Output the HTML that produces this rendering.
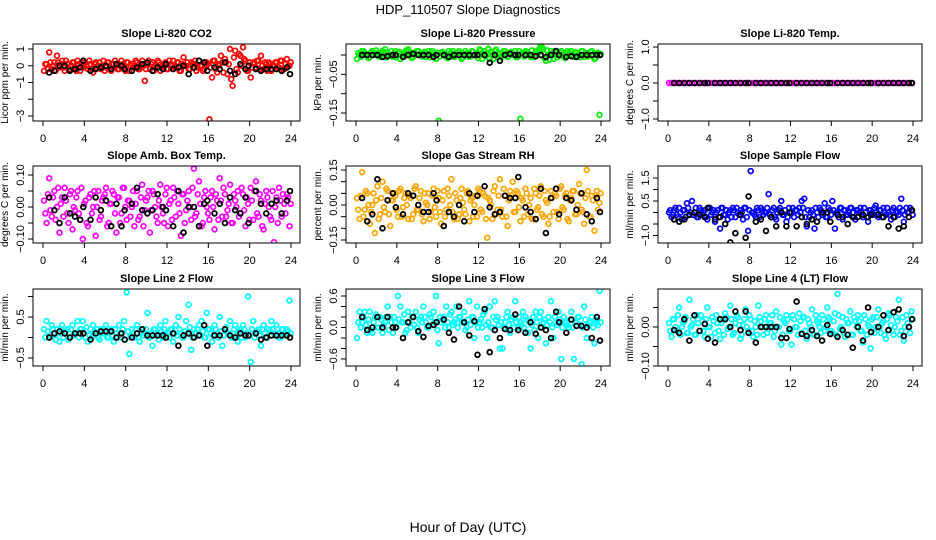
<!DOCTYPE html>
<html><head><meta charset="utf-8"><style>
body{margin:0;background:#fff;}
svg{display:block;font-family:"Liberation Sans",sans-serif;}
</style></head><body>
<svg id="c" width="936" height="540" viewBox="0 0 936 540">
<text x="468" y="14" text-anchor="middle" font-size="13">HDP_110507  Slope Diagnostics</text>
<text x="468" y="532" text-anchor="middle" font-size="14">Hour of Day (UTC)</text>
</svg>
<script>
const hoursA=[0.1,0.35,0.6,0.85,1.1,1.35,1.6,1.85,2.1,2.35,2.6,2.85,3.1,3.35,3.6,3.85,4.1,4.35,4.6,4.85,5.1,5.35,5.6,5.85,6.1,6.35,6.6,6.85,7.1,7.35,7.6,7.85,8.1,8.35,8.6,8.85,9.1,9.35,9.6,9.85,10.1,10.35,10.6,10.85,11.1,11.35,11.6,11.85,12.1,12.35,12.6,12.85,13.1,13.35,13.6,13.85,14.1,14.35,14.6,14.85,15.1,15.35,15.6,15.85,16.1,16.35,16.6,16.85,17.1,17.35,17.6,17.85,18.1,18.35,18.6,18.85,19.1,19.35,19.6,19.85,20.1,20.35,20.6,20.85,21.1,21.35,21.6,21.85,22.1,22.35,22.6,22.85,23.1,23.35,23.6,23.85];
const hoursC=[0.22,0.47,0.72,0.97,1.22,1.47,1.72,1.97,2.22,2.47,2.72,2.97,3.22,3.47,3.72,3.97,4.22,4.47,4.72,4.97,5.22,5.47,5.72,5.97,6.22,6.47,6.72,6.97,7.22,7.47,7.72,7.97,8.22,8.47,8.72,8.97,9.22,9.47,9.72,9.97,10.22,10.47,10.72,10.97,11.22,11.47,11.72,11.97,12.22,12.47,12.72,12.97,13.22,13.47,13.72,13.97,14.22,14.47,14.72,14.97,15.22,15.47,15.72,15.97,16.22,16.47,16.72,16.97,17.22,17.47,17.72,17.97,18.22,18.47,18.72,18.97,19.22,19.47,19.72,19.97,20.22,20.47,20.72,20.97,21.22,21.47,21.72,21.97,22.22,22.47,22.72,22.97,23.22,23.47,23.72,23.97];
const hoursB=[0.6,1.1,1.6,2.1,2.6,3.1,3.6,3.9,4.6,5.1,5.6,6.1,6.6,7.1,7.6,7.9,8.6,9.1,9.6,10.1,10.6,11.1,11.6,11.9,12.6,13.1,13.6,14.1,14.6,15.1,15.6,15.9,16.6,17.1,17.6,18.1,18.6,19.1,19.6,19.9,20.6,21.1,21.6,22.1,22.6,23.1,23.6,23.9];
const xTicks=[0,4,8,12,16,20,24];

const co2A=[-0.3,0.1,0.8,-0.2,0.2,0.6,-0.1,0.3,-0.3,0.1,-0.2,0.2,-0.1,0.3,-0.3,0.0,0.2,-0.2,0.1,-0.4,0.2,0.0,-0.2,0.3,-0.1,0.2,-0.3,0.1,0.0,-0.2,0.3,-0.1,0.2,-0.3,0.1,0.0,0.2,-0.2,0.3,-0.9,0.1,-0.2,0.2,-0.1,0.3,-0.3,0.0,0.2,-0.2,0.1,0.3,-0.1,0.2,-0.3,0.5,0.0,-0.2,0.2,0.1,-0.3,0.3,0.0,-0.2,0.2,-3.2,-0.7,0.3,-0.4,0.1,0.2,0.4,-0.5,1.0,-1.2,0.9,-0.4,0.6,1.1,0.3,-0.3,-0.7,0.2,-0.1,0.3,0.6,-0.2,0.1,0.2,-0.3,0.0,0.2,-0.1,0.3,-0.2,0.4,0.0];
const co2A2=[0.1,-0.2,0.2,0.0,-0.3,0.2,0.1,-0.1,0.3,-0.2,0.0,0.2,-0.3,0.1,0.2,-0.1,0.0,0.3,-0.2,0.1,-0.1,0.2,0.0,-0.3,0.2,-0.1,0.1,0.3,-0.2,0.0,0.1,-0.3,0.2,0.0,-0.1,0.3,-0.2,0.1,0.0,-0.2,0.3,0.1,-0.3,0.0,0.2,-0.1,0.1,-0.2,0.3,0.0,-0.1,0.2,-0.3,0.1,0.0,0.2,-0.2,0.1,0.3,-0.1,0.0,-0.3,0.2,0.1,-0.1,0.3,-0.2,0.0,0.6,-0.4,0.2,0.1,-0.8,0.5,-0.2,0.7,0.0,0.4,-0.3,0.2,-0.1,0.1,0.3,-0.2,0.0,0.2,-0.3,0.1,0.0,0.2,-0.1,0.3,-0.2,0.1,0.0,0.2];
const co2B=[-0.4,-0.3,0.0,0.0,-0.3,-0.2,-0.1,0.3,-0.3,-0.2,-0.1,0.0,-0.2,0.1,0.0,-0.2,-0.3,-0.1,0.1,0.2,-0.3,-0.1,-0.2,0.1,-0.2,-0.1,0.0,-0.5,-0.1,0.3,0.2,-0.3,-0.1,-0.2,0.2,-0.3,-0.5,0.1,-0.2,0.0,-0.2,-0.3,-0.2,-0.2,-0.2,-0.3,-0.1,-0.5];
const presA=[-0.01,0.0,0.01,0.005,0.0,-0.005,0.01,0.0,0.005,-0.005,0.01,0.015,0.005,0.0,-0.005,0.01,0.005,-0.01,0.0,0.01,0.015,0.005,-0.005,0.0,0.01,0.0,0.005,-0.005,0.01,0.0,0.005,-0.01,-0.17,0.005,0.0,-0.005,0.01,0.005,-0.005,0.0,0.01,-0.01,0.0,0.005,-0.005,0.01,0.0,0.005,0.015,-0.01,0.01,0.005,-0.01,0.0,0.01,-0.005,0.005,0.0,0.01,-0.005,0.005,0.0,0.01,-0.005,-0.165,0.0,0.01,0.005,-0.005,0.0,0.01,0.005,0.025,0.015,-0.015,0.0,0.01,-0.01,0.005,0.0,0.01,-0.005,0.005,0.0,0.01,-0.005,0.005,0.0,0.01,-0.005,0.005,0.0,0.01,-0.01,0.005,-0.155];
const presA2=[0.005,-0.005,0.01,0.0,-0.008,0.006,0.0,0.012,-0.004,0.004,0.008,-0.006,0.0,0.01,0.004,-0.006,0.008,0.0,-0.004,0.012,0.002,-0.008,0.006,0.01,0.0,-0.004,0.008,0.004,-0.006,0.01,0.0,0.006,-0.004,0.008,0.002,-0.008,0.004,0.01,-0.002,0.006,0.0,-0.006,0.01,0.004,-0.004,0.008,0.0,-0.008,0.012,0.004,-0.004,0.016,0.008,-0.01,0.014,0.002,-0.006,0.01,0.004,-0.004,0.008,0.0,-0.006,0.01,0.004,-0.004,0.008,0.0,0.012,-0.006,0.01,0.016,0.02,-0.008,0.012,-0.012,0.004,0.01,-0.006,0.006,0.0,-0.008,0.01,0.004,-0.004,0.008,0.0,-0.006,0.01,0.004,-0.004,0.008,0.0,-0.008,0.006,0.002];
const presB=[0.0,0.0,0.0,0.0,-0.005,-0.003,0.0,0.0,-0.005,0.0,0.003,0.0,0.0,0.0,-0.005,0.0,0.0,-0.005,0.0,0.0,0.0,0.0,0.0,0.0,0.0,-0.02,0.0,-0.015,0.0,0.003,0.0,0.0,0.0,0.0,-0.003,0.0,-0.005,0.0,0.01,0.0,-0.005,-0.003,-0.005,0.0,0.0,0.0,0.0,0.0];
const tempA=[0,0,0,0,0,0,0,0,0,0,0,0,0,0,0,0,0,0,0,0,0,0,0,0,0,0,0,0,0,0,0,0,0,0,0,0,0,0,0,0,0,0,0,0,0,0,0,0,0,0,0,0,0,0,0,0,0,0,0,0,0,0,0,0,0,0,0,0,0,0,0,0,0,0,0,0,0,0,0,0,0,0,0,0,0,0,0,0,0,0,0,0,0,0,0,0];
const tempB=[0,0,0,0,0,0,0,0,0,0,0,0,0,0,0,0,0,0,0,0,0,0,0,0,0,0,0,0,0,0,0,0,0,0,0,0,0,0,0,0,0,0,0,0,0,0,0,0];
const ambA=[0.02,-0.05,0.09,-0.03,0.05,0.0,-0.08,0.03,0.06,-0.02,0.04,-0.07,-0.01,0.05,-0.04,-0.10,0.02,-0.06,0.04,0.0,-0.09,0.05,-0.03,0.03,0.06,-0.05,0.01,0.04,-0.08,0.03,-0.02,0.06,-0.04,0.02,0.0,-0.06,0.05,-0.03,0.07,-0.01,0.03,-0.08,0.05,0.0,-0.05,0.07,-0.02,0.04,-0.06,0.02,0.06,-0.03,0.01,-0.09,0.04,-0.01,0.05,-0.04,0.12,-0.02,0.08,-0.06,0.03,0.0,-0.04,0.05,-0.07,0.02,0.09,-0.03,0.04,-0.01,0.07,-0.05,0.02,0.05,-0.02,0.04,-0.06,0.01,0.06,-0.04,0.08,-0.03,0.02,-0.07,0.05,0.0,-0.04,-0.11,0.03,0.06,-0.03,0.01,0.04,-0.06];
const ambA2=[-0.02,0.04,-0.01,0.03,-0.04,0.06,0.01,-0.03,0.02,-0.05,0.05,0.0,0.03,-0.02,0.06,0.01,-0.05,0.03,-0.02,0.05,0.0,-0.04,0.02,0.04,-0.06,0.01,0.05,-0.02,0.03,-0.05,0.06,0.0,0.02,-0.03,0.05,0.01,-0.04,0.03,-0.06,0.02,0.05,-0.01,0.04,-0.03,0.02,0.0,-0.05,0.06,0.01,-0.04,0.03,0.05,-0.02,0.04,-0.05,0.02,0.0,0.06,-0.03,0.04,0.01,-0.05,0.05,-0.02,0.03,0.0,0.04,-0.04,0.02,0.06,-0.03,0.01,-0.05,0.04,0.0,-0.03,0.06,-0.01,0.03,-0.04,0.02,0.05,-0.02,0.04,-0.06,0.01,0.03,-0.03,0.05,0.0,-0.05,0.02,0.04,-0.02,0.03,0.01];
const ambB=[0.03,-0.01,-0.05,0.03,-0.02,-0.03,-0.04,0.0,-0.04,0.03,-0.01,0.02,-0.06,0.01,-0.06,-0.01,0.01,0.06,-0.01,-0.02,-0.01,0.04,0.0,-0.01,-0.06,0.05,-0.08,0.0,0.0,-0.06,0.01,0.02,-0.02,0.01,-0.05,0.03,-0.01,-0.02,0.03,-0.05,0.05,0.01,-0.02,0.01,0.02,-0.02,0.02,0.05];
const rhA=[0.03,-0.06,0.14,-0.02,0.05,-0.08,0.0,-0.12,0.08,-0.04,0.10,-0.03,0.06,-0.09,0.02,0.04,-0.05,0.07,-0.01,0.05,-0.06,0.03,-0.04,0.08,-0.02,0.06,-0.07,0.01,0.05,-0.03,0.07,-0.05,0.03,-0.08,0.06,-0.02,0.04,0.11,-0.06,0.02,-0.04,0.07,-0.02,0.05,-0.07,0.03,0.0,-0.05,0.06,-0.03,0.04,-0.14,0.02,-0.06,0.08,-0.02,0.11,-0.05,0.04,-0.09,0.06,0.10,-0.03,0.05,-0.07,0.02,0.07,-0.04,0.03,-0.06,0.05,-0.01,0.08,-0.05,0.02,-0.08,0.06,-0.03,0.04,-0.06,0.08,-0.02,0.05,-0.07,0.03,0.06,-0.04,0.09,-0.02,-0.08,0.15,-0.05,0.04,-0.11,0.06,0.01];
const rhA2=[-0.02,0.04,-0.05,0.06,0.0,-0.03,0.05,0.02,-0.06,0.03,-0.01,0.07,-0.04,0.02,0.05,-0.02,0.06,-0.05,0.03,0.0,0.04,-0.06,0.07,-0.02,0.03,-0.04,0.05,0.0,-0.06,0.04,-0.01,0.06,-0.03,0.02,-0.05,0.07,0.0,-0.03,0.05,-0.06,0.03,0.01,-0.04,0.06,0.02,-0.05,0.04,0.07,-0.02,0.05,-0.06,0.03,0.0,0.06,-0.04,0.04,-0.02,0.07,-0.05,0.02,0.04,-0.03,0.06,-0.01,0.03,-0.05,0.05,0.0,-0.06,0.07,-0.02,0.04,-0.04,0.06,0.01,-0.05,0.03,0.05,-0.03,0.07,-0.01,0.04,-0.06,0.02,0.06,-0.04,0.0,0.05,-0.03,0.03,0.06,-0.05,0.02,0.04,-0.02,0.05];
const rhB=[0.03,-0.07,-0.04,0.11,-0.10,0.02,0.05,-0.01,-0.04,0.05,0.04,0.0,-0.03,-0.03,0.05,0.02,-0.09,-0.03,-0.05,0.0,-0.07,0.05,-0.03,0.04,0.08,-0.01,-0.04,-0.03,0.04,0.03,0.03,0.12,-0.01,-0.03,-0.06,0.07,-0.12,0.03,0.07,-0.04,0.03,0.02,-0.02,0.05,-0.04,-0.07,0.03,-0.03];
const sampA=[0.0,-0.2,0.1,-0.1,0.2,-0.3,0.1,0.4,-0.1,0.5,0.0,-0.2,0.2,-0.1,0.1,-0.3,0.2,0.0,-0.4,0.1,-0.7,0.2,-0.1,-0.3,0.1,0.2,-0.2,0.0,0.1,-0.3,0.2,-0.8,1.8,0.0,-0.2,0.1,0.2,-0.1,0.0,0.8,-0.2,0.2,-0.3,0.1,0.5,-0.1,-0.4,0.2,0.0,-0.2,0.1,0.2,0.5,0.6,-0.6,-0.2,0.1,-0.7,0.0,0.2,-0.1,0.4,-0.2,0.1,0.5,-0.7,0.0,0.2,-0.3,0.1,-0.1,0.2,0.0,-0.3,0.1,0.2,-0.2,0.0,-0.4,0.1,-0.1,0.3,-0.2,0.1,0.2,-0.1,0.0,-0.3,0.2,0.0,-0.1,0.6,-0.4,0.2,0.0,0.1];
const sampA2=[0.1,-0.1,0.2,-0.2,0.0,0.1,-0.2,0.2,0.0,-0.1,0.2,-0.2,0.1,0.0,-0.2,0.2,-0.1,0.1,0.0,-0.2,0.2,-0.1,0.1,0.0,-0.2,0.1,0.2,-0.1,0.0,0.2,-0.2,0.1,0.0,-0.1,0.2,-0.2,0.1,0.0,0.2,-0.1,0.1,-0.2,0.0,0.2,-0.1,0.1,-0.2,0.0,0.2,0.1,-0.1,0.0,0.2,-0.2,0.1,0.0,-0.1,0.2,-0.2,0.1,0.0,-0.2,0.2,-0.1,0.1,0.0,-0.2,0.2,0.1,-0.1,0.0,0.2,-0.2,0.1,0.0,-0.1,0.2,-0.2,0.1,0.0,0.2,-0.1,0.1,-0.2,0.0,0.2,-0.1,0.1,-0.2,0.0,0.2,0.1,-0.1,0.0,0.2,-0.1];
const sampB=[-0.3,-0.4,-0.3,-0.1,0.0,-0.1,-0.2,0.2,-0.3,-0.2,-0.5,-1.3,-0.9,-0.1,-1.1,0.7,-0.4,-0.3,-0.8,-0.2,-0.6,0.0,-0.6,0.0,-0.6,-0.2,-0.5,-0.3,-0.4,0.0,0.0,-0.4,-0.1,-0.2,-0.5,-0.2,-0.2,-0.1,-0.2,-0.1,-0.1,-0.2,-0.6,-0.2,-0.7,-0.6,-0.2,0.1];
const l2A=[0.2,0.4,0.0,0.3,0.1,0.2,-0.1,0.3,0.1,0.2,0.0,0.3,0.1,0.4,0.2,0.4,0.0,-0.1,0.2,0.3,0.1,0.0,0.2,0.1,0.3,0.0,0.2,-0.1,0.1,0.3,0.0,0.4,1.1,-0.4,0.2,0.0,0.3,-0.1,0.2,0.1,0.6,0.0,-0.2,0.2,0.1,0.3,0.0,0.4,0.1,0.2,-0.1,0.3,0.5,0.1,0.0,0.4,0.8,-0.3,0.2,0.1,0.3,0.4,0.0,0.6,0.2,-0.1,0.3,0.1,0.5,-0.2,0.2,0.1,0.4,0.0,0.3,-0.1,0.2,0.3,0.0,1.0,-0.6,0.4,0.1,0.2,-0.2,0.3,0.0,0.2,0.4,0.1,0.3,0.0,0.2,0.1,0.2,0.9];
const l2A2=[0.0,0.15,0.05,0.2,-0.05,0.1,0.2,0.0,0.15,-0.05,0.2,0.05,0.1,0.0,0.2,0.1,0.25,0.05,0.0,0.15,0.2,-0.05,0.1,0.2,0.0,0.15,0.05,0.2,0.0,0.1,0.2,-0.05,0.15,0.05,0.1,0.2,0.0,0.15,0.05,0.2,0.0,0.1,0.2,0.05,-0.05,0.15,0.2,0.05,0.0,0.2,0.1,0.05,0.2,0.0,0.15,0.1,0.25,0.0,0.1,0.2,0.05,0.15,0.0,0.2,0.1,0.05,0.2,0.0,0.15,0.05,0.25,0.1,0.0,0.2,0.05,0.15,0.0,0.2,0.1,0.05,0.2,0.0,0.15,0.05,0.2,0.1,0.0,0.15,0.2,0.05,0.1,0.0,0.2,0.05,0.15,0.1];
const l2B=[0.0,0.1,0.15,0.1,0.0,0.1,0.1,0.1,-0.05,0.1,0.15,0.15,0.15,0.0,0.1,-0.05,0.0,0.1,0.2,0.05,0.05,0.05,0.05,0.0,0.1,-0.2,0.05,0.1,0.0,0.05,0.3,-0.2,0.05,0.05,0.2,0.05,0.0,0.1,0.05,0.05,0.1,-0.05,0.0,0.05,0.05,0.05,0.05,0.0];
const l3A=[-0.2,0.3,0.1,0.3,-0.1,0.3,-0.1,0.2,0.0,0.2,-0.1,0.1,0.4,0.2,-0.1,0.1,0.6,0.4,0.1,-0.1,0.3,0.0,0.2,0.3,-0.1,0.2,0.4,0.1,0.0,0.2,0.3,0.6,-0.3,0.1,0.2,0.4,0.0,0.3,0.1,0.4,0.2,0.1,0.3,0.0,0.5,0.2,-0.2,0.4,0.1,0.0,0.3,-0.2,0.4,0.0,0.5,0.2,-0.4,-0.4,0.1,0.3,-0.1,0.2,0.5,0.0,0.1,0.3,0.2,-0.1,-0.4,0.2,0.3,-0.2,0.3,0.1,-0.3,0.2,0.5,-0.2,0.1,0.3,-0.6,0.2,0.1,0.0,0.3,-0.6,0.1,0.2,-0.7,0.4,-0.2,0.1,0.2,-0.3,0.1,0.7];
const l3A2=[0.1,0.0,0.2,0.05,0.15,-0.05,0.1,0.25,0.0,0.15,0.05,0.2,-0.05,0.1,0.2,0.0,0.15,0.1,0.25,-0.05,0.1,0.2,0.05,0.0,0.15,0.1,0.2,0.0,0.25,0.05,0.1,-0.05,0.2,0.15,0.0,0.1,0.25,0.05,0.15,0.0,0.2,0.1,-0.05,0.15,0.05,0.2,0.1,0.0,0.15,0.25,0.05,0.1,0.0,0.2,0.15,0.05,0.1,0.0,0.2,0.05,0.15,0.0,0.1,0.2,0.05,0.0,0.15,0.1,0.05,-0.05,0.1,0.2,0.0,0.15,0.05,0.1,0.0,0.2,0.05,0.15,0.0,0.1,0.05,0.15,0.0,0.1,0.2,0.05,0.0,0.15,0.05,0.1,0.0,0.15,0.05,0.1];
const l3B=[0.2,-0.05,0.0,0.2,0.0,0.2,0.0,0.0,-0.2,0.1,0.2,-0.07,-0.18,0.03,0.05,0.1,0.15,-0.1,-0.23,0.4,0.1,-0.15,0.12,-0.52,0.35,-0.47,-0.05,-0.2,-0.03,-0.05,0.25,-0.05,-0.1,0.1,-0.12,0.0,-0.05,-0.2,0.3,0.1,-0.1,0.15,0.03,0.03,0.0,-0.2,0.2,-0.25];
const l4A=[0.01,-0.025,0.02,-0.01,0.05,0.0,0.015,-0.015,0.07,0.005,-0.02,0.03,-0.01,0.015,-0.025,0.05,0.0,0.025,-0.015,0.01,-0.03,0.02,0.035,-0.005,0.055,-0.02,0.01,0.025,-0.03,0.005,0.045,-0.01,0.02,-0.025,0.0,0.055,0.015,-0.02,0.03,-0.005,0.01,-0.025,0.04,0.0,-0.045,0.015,0.03,-0.01,-0.045,0.02,0.0,0.035,-0.015,0.025,-0.03,0.01,0.045,-0.02,0.015,0.0,0.03,-0.01,0.05,0.02,-0.015,0.035,0.085,-0.005,0.025,-0.025,0.01,0.04,-0.02,0.015,0.03,-0.01,-0.04,0.02,0.005,-0.055,0.025,0.0,0.045,-0.015,0.015,-0.03,0.035,0.005,-0.02,0.025,0.07,-0.01,-0.035,0.03,0.0,0.04];
const l4A2=[-0.01,0.02,0.0,0.03,-0.02,0.01,0.025,-0.015,0.0,0.02,-0.02,0.01,0.03,-0.01,0.02,0.0,-0.025,0.015,0.03,-0.01,0.01,-0.02,0.025,0.0,0.02,-0.015,0.03,0.005,-0.02,0.02,0.0,0.03,-0.01,0.015,-0.02,0.025,0.0,0.02,-0.015,0.01,0.03,-0.01,0.0,0.025,-0.02,0.01,0.02,-0.01,0.03,0.0,-0.02,0.015,0.025,-0.01,0.02,0.0,-0.02,0.03,0.01,-0.015,0.02,0.0,0.025,-0.01,0.015,-0.02,0.03,0.0,-0.015,0.02,0.01,-0.02,0.025,0.0,0.015,-0.01,0.03,-0.02,0.0,0.02,-0.015,0.025,0.0,0.01,-0.02,0.02,0.03,-0.01,0.0,0.015,-0.02,0.025,0.0,0.01,-0.015,0.02];
const l4B=[-0.008,-0.015,0.02,-0.035,0.03,-0.01,0.008,-0.03,-0.04,0.02,0.02,0.0,0.04,-0.008,0.04,-0.015,-0.04,0.0,0.0,0.0,0.0,-0.028,-0.028,-0.005,0.065,-0.018,-0.023,-0.008,-0.023,-0.035,0.005,-0.018,-0.025,-0.008,-0.02,-0.053,0.0,-0.035,0.05,-0.013,0.0,0.03,-0.008,0.038,0.045,-0.023,0.0,0.02];

const co2Ticks=[1,0,-1,-2,-3], co2Labels=[1,0,-1,-3];
const presTicks=[0,-0.05,-0.1,-0.15], presLabels=[-0.05,-0.15];
const tempTicks=[1,0.5,0,-0.5,-1], tempLabels=[1,0,-1];
const ambTicks=[0.1,0.05,0,-0.05,-0.1], ambLabels=[0.1,0,-0.1];
const rhTicks=[0.15,0.1,0.05,0,-0.05,-0.1,-0.15], rhLabels=[0.15,0,-0.15];
const sampTicks=[1.5,1,0.5,0,-0.5,-1], sampLabels=[1.5,0.5,-1];
const l2Ticks=[1,0.5,0,-0.5], l2Labels=[0.5,-0.5];
const l3Ticks=[0.6,0.4,0.2,0,-0.2,-0.4,-0.6], l3Labels=[0.6,0,-0.6];
const l4Ticks=[0.05,0,-0.05,-0.1], l4Labels=[0,-0.1];

const NS='http://www.w3.org/2000/svg';
const svg=document.getElementById('c');
const cols=[{x0:43,x24:291},{x0:356,x24:601},{x0:668,x24:913}];
const rowTop=[44,166,289];
const panels=[
 {n:'co2',t:'Slope Li-820 CO2',yl:'Licor ppm per min.',c:0,r:0,col:'#ff0000',a:co2A,a2:co2A2,b:co2B,v0:1,p0:49,v1:-3,p1:116,ticks:co2Ticks,labels:co2Labels,dp:0},
 {n:'pressure',t:'Slope Li-820 Pressure',yl:'kPa per min.',c:1,r:0,col:'#00ee00',a:presA,a2:presA2,b:presB,v0:0,p0:55,v1:-0.15,p1:113,ticks:presTicks,labels:presLabels,dp:2},
 {n:'temp',t:'Slope Li-820 Temp.',yl:'degrees C per min.',c:2,r:0,col:'#ff00ff',a:tempA,a2:[],b:tempB,v0:1,p0:47,v1:-1,p1:119,ticks:tempTicks,labels:tempLabels,dp:1},
 {n:'amb-box-temp',t:'Slope Amb. Box Temp.',yl:'degrees C per min.',c:0,r:1,col:'#ff00ff',a:ambA,a2:ambA2,b:ambB,v0:0.1,p0:175,v1:-0.1,p1:239,ticks:ambTicks,labels:ambLabels,dp:2},
 {n:'gas-rh',t:'Slope Gas Stream RH',yl:'percent per min.',c:1,r:1,col:'#ffa500',a:rhA,a2:rhA2,b:rhB,v0:0.15,p0:170,v1:-0.15,p1:240,ticks:rhTicks,labels:rhLabels,dp:2},
 {n:'sample-flow',t:'Slope Sample Flow',yl:'ml/min per min.',c:2,r:1,col:'#0000ff',a:sampA,a2:sampA2,b:sampB,v0:1.5,p0:178,v1:-1,p1:235.5,ticks:sampTicks,labels:sampLabels,dp:1},
 {n:'line2-flow',t:'Slope Line 2 Flow',yl:'ml/min per min.',c:0,r:2,col:'#00ffff',a:l2A,a2:l2A2,b:l2B,v0:0.5,p0:317,v1:-0.5,p1:358,ticks:l2Ticks,labels:l2Labels,dp:1},
 {n:'line3-flow',t:'Slope Line 3 Flow',yl:'ml/min per min.',c:1,r:2,col:'#00ffff',a:l3A,a2:l3A2,b:l3B,v0:0.6,p0:296,v1:-0.6,p1:359,ticks:l3Ticks,labels:l3Labels,dp:1},
 {n:'line4-flow',t:'Slope Line 4 (LT) Flow',yl:'ml/min per min.',c:2,r:2,col:'#00ffff',a:l4A,a2:l4A2,b:l4B,v0:0,p0:327,v1:-0.1,p1:366,ticks:l4Ticks,labels:l4Labels,dp:2}
];
function mk(tag,attrs,parent){const e=document.createElementNS(NS,tag);for(const k in attrs)e.setAttribute(k,attrs[k]);parent.appendChild(e);return e;}
function fmt(v,dp){const s=v.toFixed(dp);return s.replace('-','\u2212');}
panels.forEach(p=>{
 const C=cols[p.c], top=rowTop[p.r], bot=top+77, left=C.x0-10, right=C.x24+9;
 const xs=h=>C.x0+(C.x24-C.x0)*h/24;
 const ys=v=>p.p0+(p.p1-p.p0)*(v-p.v0)/(p.v1-p.v0);
 const g=mk('g',{},svg);
 
 
 const tt=mk('text',{x:(left+right)/2,y:top-7,'text-anchor':'middle','font-size':'11','font-weight':'bold'},g);
 tt.textContent=p.t;
 
 
 const clip=mk('clipPath',{id:'cl'+p.n},g);
 mk('rect',{x:left,y:top,width:right-left,height:bot-top},clip);
 const pts=mk('g',{'clip-path':'url(#cl'+p.n+')'},g);
 
 
 p.a.forEach((v,i)=>{const e=mk('circle',{cx:xs(hoursA[i]).toFixed(1),cy:ys(v).toFixed(1),r:2.4,fill:'none',stroke:p.col,'stroke-width':1.7},pts);
  
  });
 p.a2.forEach((v,i)=>{if(hoursC[i]===undefined)return;const e=mk('circle',{cx:xs(hoursC[i]).toFixed(1),cy:ys(v).toFixed(1),r:2.4,fill:'none',stroke:p.col,'stroke-width':1.7},pts);
  
  });
 p.b.forEach((v,i)=>{const e=mk('circle',{cx:xs(hoursB[i]).toFixed(1),cy:ys(v).toFixed(1),r:2.4,fill:'none',stroke:'#000','stroke-width':1.8},pts);
  
  });
 const box=mk('rect',{x:left,y:top,width:right-left,height:bot-top,fill:'none',stroke:'#000','stroke-width':1},g);
 
 
 const ax=mk('g',{stroke:'#000','stroke-width':1},g);
 
 
 mk('line',{x1:xs(0),x2:xs(24),y1:bot,y2:bot},ax);
 xTicks.forEach(h=>{mk('line',{x1:xs(h),x2:xs(h),y1:bot,y2:bot+5},ax);
  const t=mk('text',{x:xs(h),y:bot+21,'text-anchor':'middle','font-size':'11',stroke:'none',fill:'#000'},g);
  t.textContent=h;
  
  });
 const ay=mk('g',{stroke:'#000','stroke-width':1},g);
 
 
 p.ticks.forEach(v=>mk('line',{x1:left-5,x2:left,y1:ys(v),y2:ys(v)},ay));
 p.labels.forEach(v=>{const y=ys(v);const t=mk('text',{x:left-9,y:y,'text-anchor':'middle','font-size':'11',transform:'rotate(-90 '+(left-9)+' '+y+')'},g);
  t.textContent=fmt(v,p.dp);
  
  });
 const yc=(top+bot)/2;
 const yt=mk('text',{x:left-25,y:yc,'text-anchor':'middle','font-size':'10',transform:'rotate(-90 '+(left-25)+' '+yc+')'},g);
 yt.textContent=p.yl;
 
 
});
</script>
</body></html>
